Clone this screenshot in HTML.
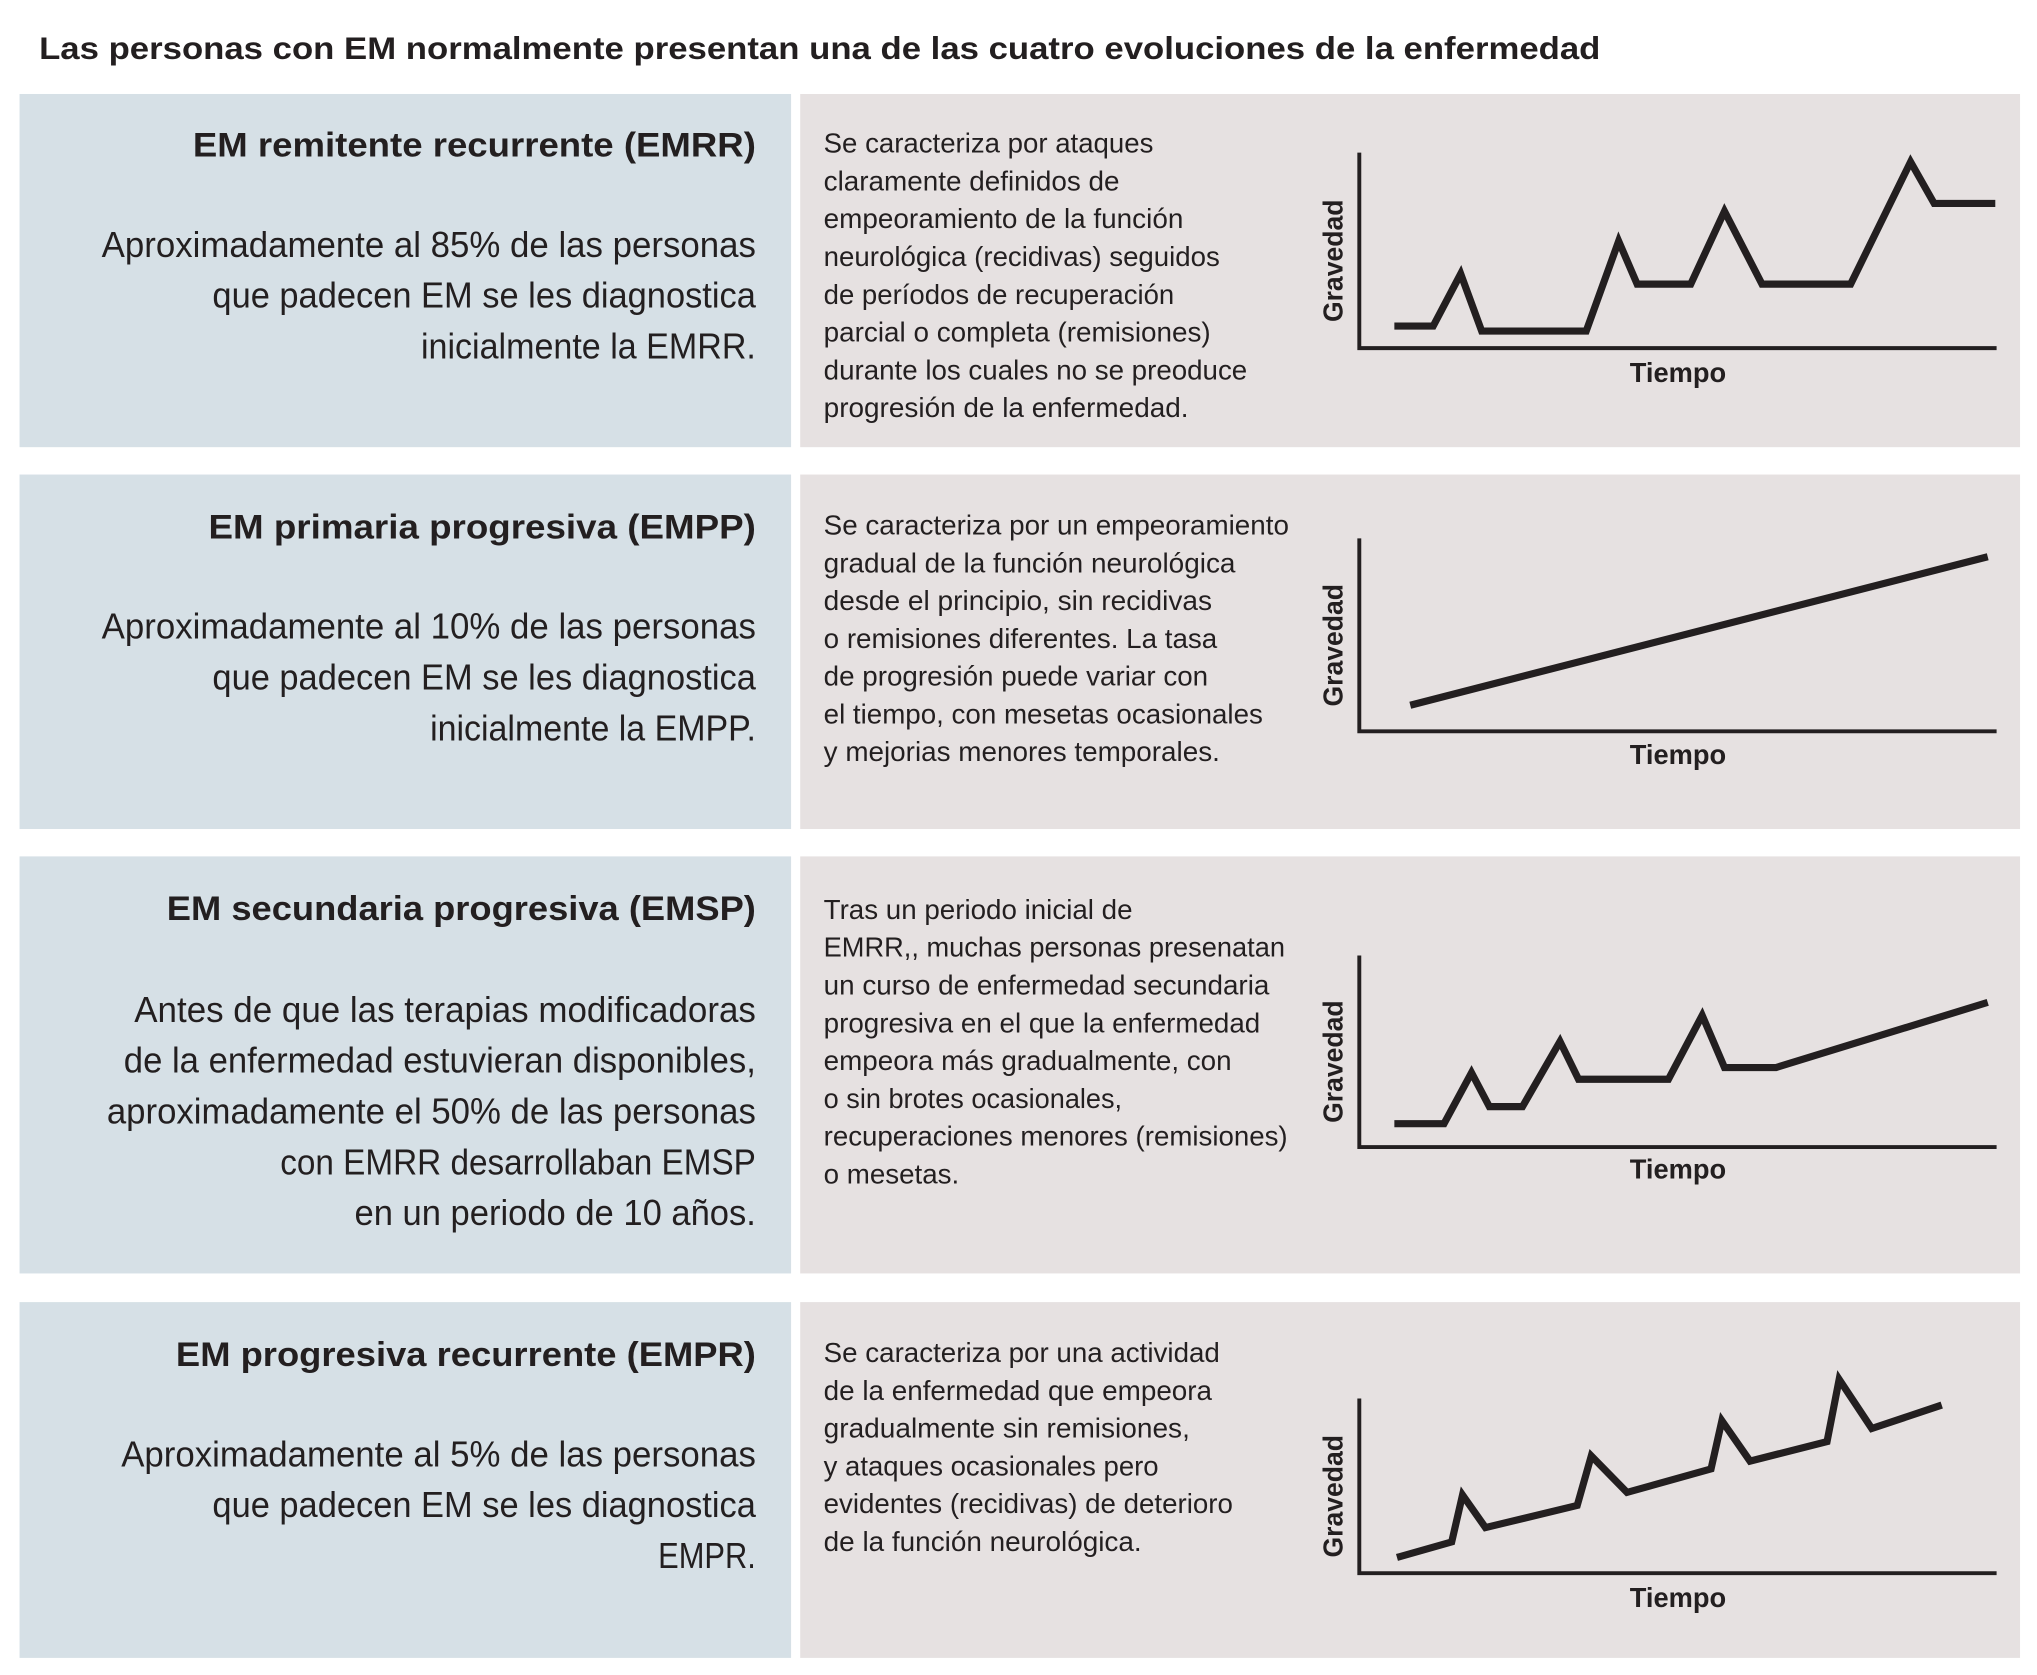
<!DOCTYPE html>
<html><head><meta charset="utf-8">
<style>
html,body{margin:0;padding:0;background:#fff;}
svg{display:block;}
text{font-family:"Liberation Sans",sans-serif;fill:#231f20;}
.t{font-weight:bold;font-size:24px;}
.h{font-weight:bold;font-size:26px;}
.b{font-size:28px;}
.r{font-size:21.5px;}
.ax{font-weight:bold;font-size:21px;}
</style></head>
<body>
<svg id="chart" width="2037" height="1675" viewBox="0 0 1563 1285" xmlns="http://www.w3.org/2000/svg">
<text class="t" x="30" y="45" textLength="1198" lengthAdjust="spacingAndGlyphs">Las personas con EM normalmente presentan una de las cuatro evoluciones de la enfermedad</text>
<g id="rows"></g>
</svg>
<script>
// chart data: x in % of time axis, y in % of severity axis
const emrrX = [5.5,11.6,15.9,19.2,35.6,40.7,43.6,52,57.3,63.2,77.1,86.5,90.2,99.8];
const emrrY = [11.3,11.3,38,8.7,8.7,54.7,32.7,32.7,70,32.7,32.7,95.3,74,74];
const emppX = [8,98.6];
const emppY = [13.5,90.5];
const emspX = [5.5,13.3,17.6,20.4,25.6,31.5,34.4,48.5,53.8,57.3,65.4,98.6];
const emspY = [12.2,12.2,38.8,21.1,21.1,55.1,35.4,35.4,68.7,41.5,41.5,75.5];
const emprX = [5.9,14.5,16.2,19.8,34.2,36.4,42,55.2,56.9,61.3,73.4,75.3,80.4,91.4];
const emprY = [9,17.9,44.8,26.1,38.8,67.2,46.3,59.7,87.3,64.2,75.4,111,82.8,96.3];
const axisLabelX = "Tiempo";
const axisLabelY = "Gravedad";

const NS = "http://www.w3.org/2000/svg";
const rowsG = document.getElementById('rows');
function mk(tag, attrs, parent, txt){
  const e = document.createElementNS(NS, tag);
  for (const k in attrs) e.setAttribute(k, attrs[k]);
  if (txt !== undefined) e.textContent = txt;
  parent.appendChild(e);
  return e;
}
const rows = [
 {key:'emrr', top:72, bot:343, head:'EM remitente recurrente (EMRR)', headY:120, headW:432,
  body:[['Aproximadamente al 85% de las personas',197,502],['que padecen EM se les diagnostica',236,417],['inicialmente la EMRR.',275,257]],
  right:[['Se caracteriza por ataques',117,253],['claramente definidos de',146,227],['empeoramiento de la función',175,276],['neurológica (recidivas) seguidos',204,304],['de períodos de recuperación',233,269],['parcial o completa (remisiones)',262,297],['durante los cuales no se preoduce',291,325],['progresión de la enfermedad.',320,280]],
  ax:{top:117,bot:267}, xs:emrrX, ys:emrrY, tiempoY:293},
 {key:'empp', top:364, bot:636, head:'EM primaria progresiva (EMPP)', headY:413, headW:420,
  body:[['Aproximadamente al 10% de las personas',490,502],['que padecen EM se les diagnostica',529,417],['inicialmente la EMPP.',568,250]],
  right:[['Se caracteriza por un empeoramiento',410,357],['gradual de la función neurológica',439,316],['desde el principio, sin recidivas',468,298],['o remisiones diferentes. La tasa',497,302],['de progresión puede variar con',526,295],['el tiempo, con mesetas ocasionales',555,337],['y mejorias menores temporales.',584,304]],
  ax:{top:413,bot:561}, xs:emppX, ys:emppY, tiempoY:586},
 {key:'emsp', top:657, bot:977, head:'EM secundaria progresiva (EMSP)', headY:706, headW:452,
  body:[['Antes de que las terapias modificadoras',784,477],['de la enfermedad estuvieran disponibles,',823,485],['aproximadamente el 50% de las personas',862,498],['con EMRR desarrollaban EMSP',901,365],['en un periodo de 10 años.',940,308]],
  right:[['Tras un periodo inicial de',705,237],['EMRR,, muchas personas presenatan',734,354],['un curso de enfermedad secundaria',763,342],['progresiva en el que la enfermedad',792,335],['empeora más gradualmente, con',821,313],['o sin brotes ocasionales,',850,229],['recuperaciones menores (remisiones)',879,356],['o mesetas.',908,104]],
  ax:{top:733,bot:880}, xs:emspX, ys:emspY, tiempoY:904},
 {key:'empr', top:999, bot:1272, head:'EM progresiva recurrente (EMPR)', headY:1048, headW:445,
  body:[['Aproximadamente al 5% de las personas',1125,487],['que padecen EM se les diagnostica',1164,417],['EMPR.',1203,75]],
  right:[['Se caracteriza por una actividad',1045,304],['de la enfermedad que empeora',1074,298],['gradualmente sin remisiones,',1103,281],['y ataques ocasionales pero',1132,257],['evidentes (recidivas) de deterioro',1161,314],['de la función neurológica.',1190,244]],
  ax:{top:1073,bot:1207}, xs:emprX, ys:emprY, tiempoY:1233}
];
const AX0 = 1043, AX1 = 1532;
rows.forEach(r => {
  const g = mk('g', {}, rowsG);
  
  
  const lp = mk('rect', {x:15, y:r.top, width:592, height:r.bot-r.top, fill:'#d6e0e6'}, g);
  
  
  const rp = mk('rect', {x:614, y:r.top, width:936, height:r.bot-r.top, fill:'#e6e1e1'}, g);
  
  
  const h = mk('text', {class:'h', x:580-r.headW, y:r.headY, textLength:r.headW, lengthAdjust:'spacingAndGlyphs'}, g, r.head);
  
  
  r.body.forEach(([t, y, w]) => {
    const e = mk('text', {class:'b', x:580-w, y:y, textLength:w, lengthAdjust:'spacingAndGlyphs'}, g, t);
    
    
  });
  r.right.forEach(([t, y, w]) => {
    const e = mk('text', {class:'r', x:632, y:y, textLength:w, lengthAdjust:'spacingAndGlyphs'}, g, t);
    
    
  });
  const H = r.ax.bot - r.ax.top;
  const sx = v => AX0 + v / 100 * (AX1 - AX0);
  const sy = v => r.ax.bot - v / 100 * H;
  const axes = mk('path', {d:`M${AX0},${r.ax.top} L${AX0},${r.ax.bot} L${AX1},${r.ax.bot}`, fill:'none', stroke:'#231f20', 'stroke-width':3}, g);
  
  
  const pts = r.xs.map((x, i) => sx(x).toFixed(1) + ',' + sy(r.ys[i]).toFixed(1)).join(' ');
  const line = mk('polyline', {points:pts, fill:'none', stroke:'#231f20', 'stroke-width':5.5, 'stroke-linejoin':'miter', 'stroke-miterlimit':10}, g);
  
  
  const xt = mk('text', {class:'ax', x:(AX0+AX1)/2, y:r.tiempoY, 'text-anchor':'middle', textLength:74, lengthAdjust:'spacingAndGlyphs'}, g, axisLabelX);
  
  
  const cy = (r.ax.top + r.ax.bot) / 2 + 8;
  const yt = mk('text', {class:'ax', x:0, y:0, 'text-anchor':'middle', transform:`translate(1030,${cy}) rotate(-90)`, textLength:94, lengthAdjust:'spacingAndGlyphs'}, g, axisLabelY);
  
  
});
</script>
</body></html>
